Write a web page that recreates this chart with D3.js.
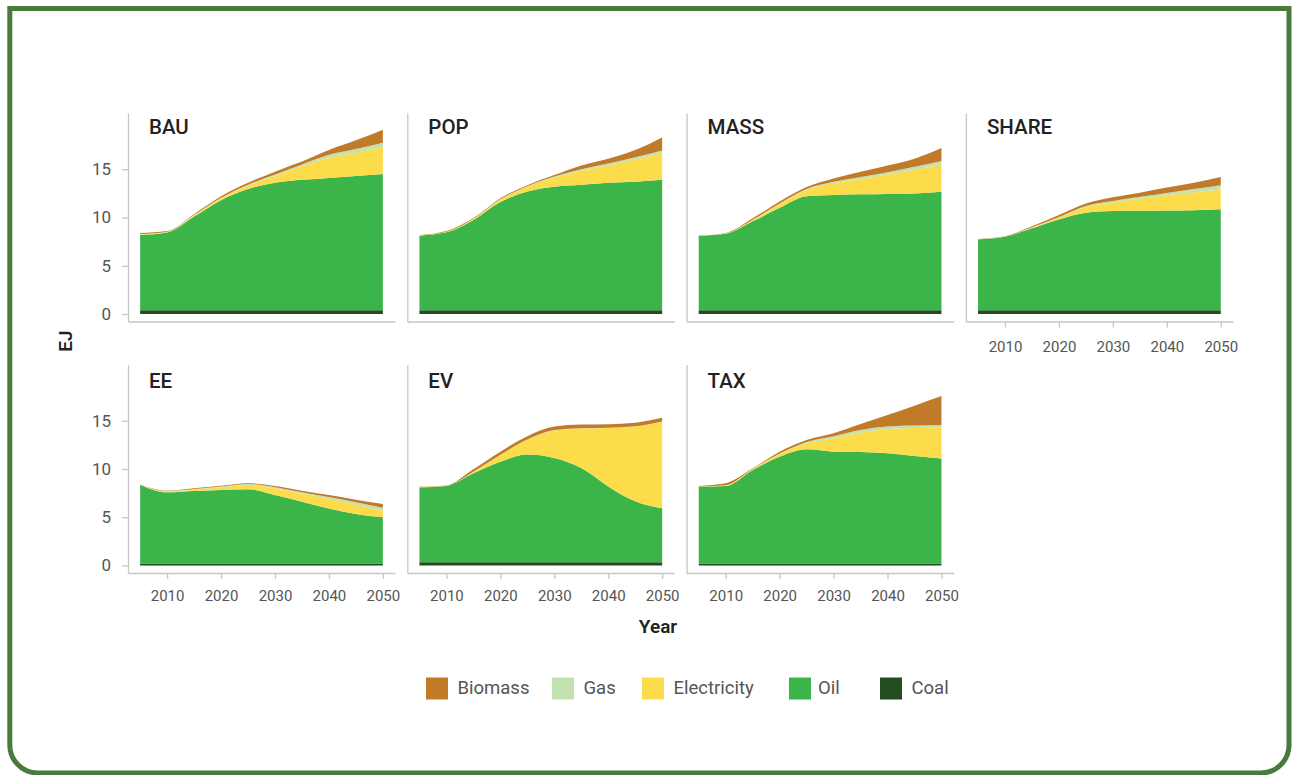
<!DOCTYPE html>
<html>
<head>
<meta charset="utf-8">
<script src="https://cdn.jsdelivr.net/npm/d3@7"></script>
<style>
  body { margin: 0; background: #fff; }
  svg { display: block; font-family: Roboto, "Open Sans", sans-serif; }
</style>
</head>
<body>
<div id="chart-container"></div>
<script>
const width = 1293;
const height = 775;

// data, one row per scenario, one value per year
const years = [2005, 2010, 2015, 2020, 2025, 2030, 2035, 2040, 2045, 2050];
const scenarios = ["BAU", "POP", "MASS", "SHARE", "EE", "EV", "TAX"];
const fuels = ["Coal", "Oil", "Electricity", "Gas", "Biomass"];
const legendOrder = ["Biomass", "Gas", "Electricity", "Oil", "Coal"];

const coal = [
    [0.4, 0.4, 0.4, 0.4, 0.4, 0.4, 0.4, 0.4, 0.4, 0.4],
    [0.4, 0.4, 0.4, 0.4, 0.4, 0.4, 0.4, 0.4, 0.4, 0.4],
    [0.4, 0.4, 0.4, 0.4, 0.4, 0.4, 0.4, 0.4, 0.4, 0.4],
    [0.4, 0.4, 0.4, 0.4, 0.4, 0.4, 0.4, 0.4, 0.4, 0.4],
    [0.2, 0.2, 0.2, 0.2, 0.2, 0.2, 0.2, 0.2, 0.2, 0.2],
    [0.35, 0.35, 0.35, 0.35, 0.35, 0.35, 0.35, 0.35, 0.35, 0.35],
    [0.2, 0.2, 0.2, 0.2, 0.2, 0.2, 0.2, 0.2, 0.2, 0.2]
];
const oil = [
    [7.8, 8.05, 9.7, 11.4, 12.55, 13.2, 13.5, 13.7, 13.9, 14.1],
    [7.72, 8.06, 9.34, 11.2, 12.3, 12.8, 13.0, 13.2, 13.3, 13.5],
    [7.72, 7.92, 9.2, 10.6, 11.8, 11.93, 12.0, 12.03, 12.1, 12.27],
    [7.34, 7.6, 8.48, 9.4, 10.1, 10.27, 10.3, 10.33, 10.36, 10.45],
    [8.14, 7.38, 7.52, 7.62, 7.7, 7.1, 6.41, 5.72, 5.14, 4.79],
    [7.75, 7.89, 9.2, 10.41, 11.15, 10.8, 9.75, 7.85, 6.3, 5.58],
    [7.97, 8.04, 9.7, 11.07, 11.84, 11.6, 11.56, 11.43, 11.15, 10.9]
];
const electricity = [
    [0.05, 0.05, 0.1, 0.2, 0.35, 0.7, 1.4, 2.1, 2.4, 2.8],
    [0.05, 0.06, 0.11, 0.25, 0.5, 0.95, 1.45, 1.8, 2.3, 2.75],
    [0.01, 0.03, 0.11, 0.4, 0.65, 1.22, 1.6, 2.02, 2.45, 2.83],
    [0.01, 0.01, 0.07, 0.2, 0.6, 0.88, 1.25, 1.57, 1.84, 2.05],
    [0.0, 0.07, 0.13, 0.28, 0.45, 0.7, 0.84, 0.98, 0.96, 0.69],
    [0.03, 0.02, 0.15, 0.69, 1.52, 2.85, 4.1, 6.05, 7.75, 8.97],
    [0.01, 0.06, 0.1, 0.28, 0.62, 1.38, 2.0, 2.52, 2.9, 3.18]
];
const gas = [
    [0.03, 0.02, 0.05, 0.05, 0.1, 0.15, 0.2, 0.3, 0.4, 0.45],
    [0.01, 0.01, 0.02, 0.05, 0.05, 0.1, 0.15, 0.2, 0.25, 0.3],
    [0.01, 0.01, 0.05, 0.05, 0.1, 0.15, 0.2, 0.25, 0.3, 0.35],
    [0.01, 0.01, 0.03, 0.05, 0.1, 0.15, 0.2, 0.25, 0.35, 0.45],
    [0.0, 0.05, 0.07, 0.08, 0.09, 0.12, 0.15, 0.2, 0.25, 0.3],
    [0.01, 0.01, 0.02, 0.02, 0.03, 0.03, 0.03, 0.03, 0.03, 0.03],
    [0.01, 0.02, 0.02, 0.05, 0.14, 0.22, 0.28, 0.25, 0.25, 0.28]
];
const biomass = [
    [0.12, 0.08, 0.1, 0.15, 0.2, 0.3, 0.3, 0.5, 0.9, 1.35],
    [0.02, 0.07, 0.08, 0.1, 0.1, 0.15, 0.4, 0.5, 0.75, 1.35],
    [0.01, 0.04, 0.15, 0.2, 0.2, 0.35, 0.55, 0.7, 0.85, 1.35],
    [0.01, 0.03, 0.12, 0.2, 0.25, 0.4, 0.42, 0.55, 0.65, 0.85],
    [0.02, 0.05, 0.08, 0.09, 0.08, 0.12, 0.15, 0.2, 0.26, 0.39],
    [0.03, 0.03, 0.25, 0.33, 0.35, 0.37, 0.37, 0.37, 0.37, 0.37],
    [0.05, 0.2, 0.05, 0.2, 0.2, 0.3, 0.62, 1.2, 2.06, 3.0]
];
const yTicks = [0, 5, 10, 15];
const xTicks = [2010, 2020, 2030, 2040, 2050];

const series = { Coal: coal, Oil: oil, Electricity: electricity, Gas: gas, Biomass: biomass };
const color = d3.scaleOrdinal()
    .domain(["Biomass", "Gas", "Electricity", "Oil", "Coal"])
    .range(["#c07a28", "#c3e1b0", "#fddc4c", "#3bb54a", "#234d20"]);

const svg = d3.select("div#chart-container").append("svg")
    .attr("width", width)
    .attr("height", height);

// frame: square top corners, rounded bottom corners
const r = 28;
svg.append("path")
    .attr("d", "M9.8,8.5 H1289 V" + (773 - r) + " A" + r + "," + r + " 0 0 1 " + (1289 - r) + ",773"
        + " H" + (9.8 + r) + " A" + r + "," + r + " 0 0 1 9.8," + (773 - r) + " Z")
    .attr("fill", "none")
    .attr("stroke", "#487a3c")
    .attr("stroke-width", 5);

const panelW = 267;
const panelH = 208.5;
const colStep = 279.3;
const rowStep = 251.5;

const xScale = d3.scaleLinear().domain([2002.75, 2052.25]).range([0, panelW]);
const yScale = d3.scaleLinear().domain([-0.777, 20.83]).range([panelH, 0]);

const stack = d3.stack().keys(fuels);
const area = d3.area()
    .x(d => xScale(d.data.year))
    .y0(d => yScale(d[0]))
    .y1(d => yScale(d[1]))
    .curve(d3.curveMonotoneX);

scenarios.forEach(function (name, i) {
    const row = i < 4 ? 0 : 1;
    const col = i < 4 ? i : i - 4;
    const g = svg.append("g")
        .attr("transform", "translate(" + (128 + col * colStep) + "," + (113 + row * rowStep) + ")");

    const rows = years.map(function (yr, j) {
        const o = { year: yr };
        fuels.forEach(f => { o[f] = series[f][i][j]; });
        return o;
    });

    g.append("g")
        .selectAll("path")
        .data(stack(rows))
        .enter()
        .append("path")
        .attr("fill", d => color(d.key))
        .attr("d", area);

    const showX = row === 1 || col === 3;
    const xaxis = d3.axisBottom(xScale)
        .tickValues(showX ? xTicks : [])
        .tickFormat(d3.format("d"))
        .tickSize(6).tickSizeOuter(0).tickPadding(row === 0 ? 14 : 11);
    const yaxis = d3.axisLeft(yScale)
        .tickValues(col === 0 ? yTicks : [])
        .tickSize(6).tickSizeOuter(0).tickPadding(11);

    g.append("g")
        .attr("class", "axis x")
        .attr("transform", "translate(0," + panelH + ")")
        .call(xaxis);
    g.append("g")
        .attr("class", "axis y")
        .call(yaxis);

    g.append("text")
        .attr("x", 21)
        .attr("y", 21 + row * 2)
        .attr("font-size", 20.5)
        .attr("font-weight", 500)
        .attr("fill", "#222")
        .text(name);
});

svg.selectAll(".axis path, .axis line")
    .attr("stroke", "#c6c6c6")
    .attr("stroke-width", 1.3);
svg.selectAll(".axis text")
    .attr("font-family", "Roboto, sans-serif")
    .attr("font-weight", 400)
    .attr("fill", "#555");
svg.selectAll(".axis.x text").attr("font-size", 15);
svg.selectAll(".axis.y text").attr("font-size", 17);

// axis titles
svg.append("text")
    .attr("transform", "translate(72,341) rotate(-90)")
    .attr("text-anchor", "middle")
    .attr("font-size", 19)
    .attr("font-weight", 600)
    .attr("fill", "#222")
    .text("EJ");
svg.append("text")
    .attr("x", 658)
    .attr("y", 633)
    .attr("text-anchor", "middle")
    .attr("font-size", 19)
    .attr("font-weight", 600)
    .attr("fill", "#222")
    .text("Year");

// legend
const legendX = [426, 552, 642, 789, 880];
const legend = svg.append("g")
    .selectAll("g")
    .data(legendOrder)
    .enter()
    .append("g")
    .attr("transform", (d, k) => "translate(" + legendX[k] + ",677.5)");
legend.append("rect")
    .attr("width", 22)
    .attr("height", 22)
    .attr("fill", d => color(d));
legend.append("text")
    .attr("x", (d, k) => k === 3 ? 29 : 31.5)
    .attr("y", 16.5)
    .attr("font-size", 18.5)
    .attr("font-weight", 400)
    .attr("fill", "#555")
    .text(d => d);
</script>
</body>
</html>
